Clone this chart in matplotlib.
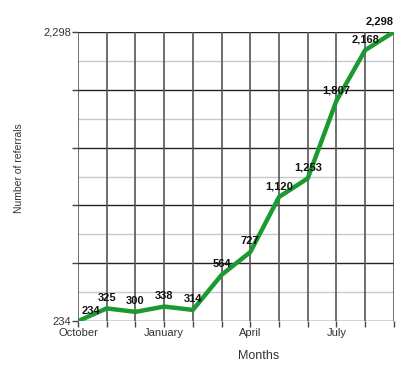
import numpy as np
import matplotlib
matplotlib.use('Agg')
import matplotlib.pyplot as plt

plt.rcParams['font.family'] = ['Liberation Sans', 'DejaVu Sans']

months = ['October', 'November', 'December', 'January', 'February', 'March',
          'April', 'May', 'June', 'July', 'August', 'September']
referrals = [234, 325, 300, 338, 314, 564, 727, 1120, 1253, 1807, 2168, 2298]
shown_months = ['October', 'January', 'April', 'July']

ymin, ymax = 234, 2298

fig = plt.figure(figsize=(4.04, 3.67), dpi=100)
ax = fig.add_axes([0.193, 0.125, 0.782, 0.788])

x = np.arange(len(months))
ax.set_xlim(0, len(months) - 1)
ax.set_ylim(ymin, ymax)

# grid: major black lines, minor light ones in between
major = np.linspace(ymin, ymax, 6)
minor = (major[:-1] + major[1:]) / 2
for y in minor:
    ax.axhline(y, color='#c8c8c8', lw=1.0, zorder=1)
for y in major:
    ax.axhline(y, color='#222222', lw=1.0, zorder=2)
for xi in x:
    ax.axvline(xi, color='#555555', lw=1.2, zorder=2)

ax.plot(x, referrals, color='#1a9a30', lw=3.2, zorder=3, solid_joinstyle='miter')

for i, v in enumerate(referrals):
    dx = 0
    if i == 0:
        dx = 9
    elif i == len(referrals) - 1:
        dx = -10
    ax.annotate(f'{v:,}', (x[i], v), xytext=(dx, 4), textcoords='offset points',
                ha='center', va='bottom', fontsize=8, fontweight='bold',
                color='#111111', zorder=4)

ax.set_yticks(major)
ax.set_yticklabels(['234', '', '', '', '', '2,298'])
ax.set_xticks(x)
ax.set_xticklabels([m if m in shown_months else '' for m in months])
ax.tick_params(axis='both', length=4, width=1, color='#444444',
               labelsize=8, labelcolor='#333333', pad=1)

for s in ax.spines.values():
    s.set_visible(False)

ax.set_xlabel('Months', fontsize=9, color='#333333')
ax.xaxis.set_label_coords(0.571, -0.1)
ax.set_ylabel('Number of referrals', fontsize=7.5, color='#333333')
ax.yaxis.set_label_coords(-0.171, 0.53)

fig.savefig('out.png', dpi=100)
